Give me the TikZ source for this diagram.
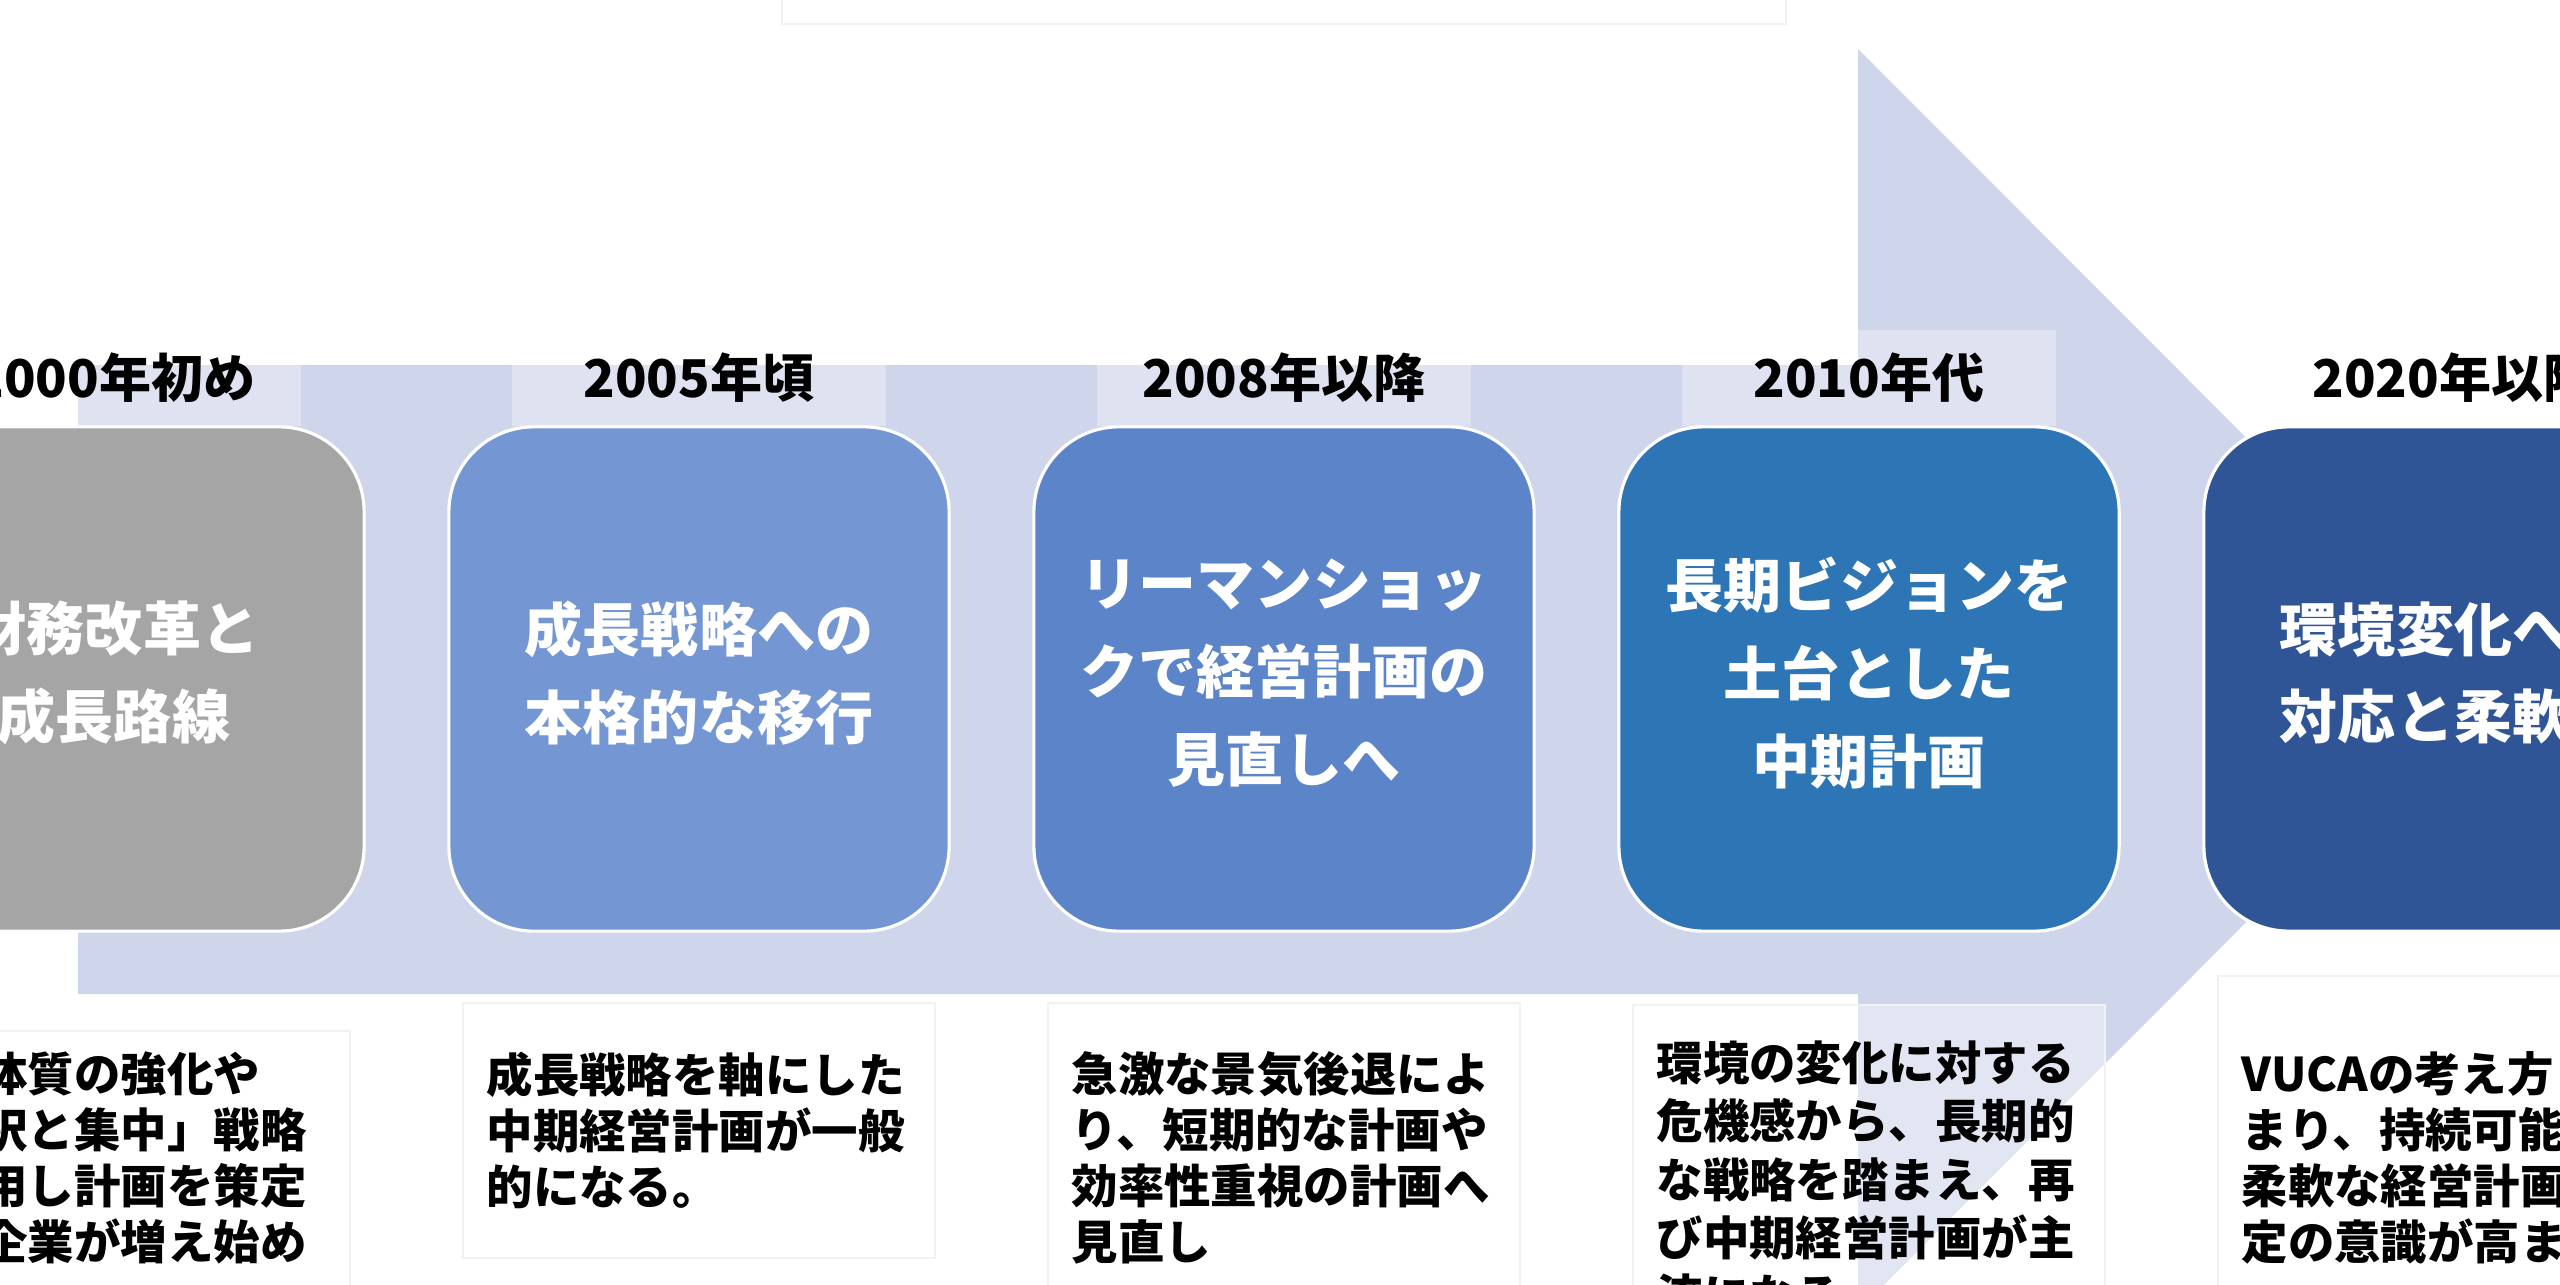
\documentclass[tikz,border=0pt]{standalone}
\usepackage{fontspec}
\setmainfont{Noto Sans CJK JP}
\newcommand\stagefont{\fontsize{16.5pt}{25pt}\selectfont\bfseries}
\newcommand\yearfont{\fontsize{14.8pt}{18pt}\selectfont\bfseries}
\newcommand\notefont{\fontsize{13.2pt}{15.9pt}\selectfont\bfseries}
\definecolor{arrowfill}{HTML}{CFD5EA}
\definecolor{stageA}{HTML}{A5A5A5}
\definecolor{stageB}{HTML}{7496D2}
\definecolor{stageC}{HTML}{5B84C9}
\definecolor{stageD}{HTML}{2E75B6}
\definecolor{stageE}{HTML}{2F5597}
\begin{document}
\begin{tikzpicture}[x=0.01cm, y=-0.01cm,
  yearbox/.style={fill=white, fill opacity=0.35, text opacity=1, minimum width=3.74cm, minimum height=0.96cm, inner sep=0pt, font=\yearfont},
  stagebox/.style={draw=white, line width=0.9pt, rounded corners=0.85cm, minimum width=5cm, minimum height=5.04cm, inner sep=0pt},
  stagetext/.style={align=center, text=white, inner sep=0pt, font=\stagefont},
  notebox/.style={draw=black!5, line width=0.5pt, fill=white, fill opacity=0.4, anchor=north west, minimum width=4.72cm, inner sep=0pt},
  notetext/.style={anchor=north west, align=left, inner sep=0pt, font=\notefont}]
  \useasboundingbox (0,0) rectangle (2560,1285);
  \draw[black!5] (782,-10) rectangle (1786,24);
  \fill[arrowfill] (78,365) -- (1858,365) -- (1858,49) -- (2488,680) -- (1858,1311) -- (1858,994) -- (78,994) -- cycle;

  \node[yearbox] (yr1) at (114,378) {2000年初め};
  \node[yearbox] (yr2) at (699,378) {2005年頃};
  \node[yearbox] (yr3) at (1284,378) {2008年以降};
  \node[yearbox] (yr4) at (1869,378) {2010年代};
  \node[yearbox] (yr5) at (2454,378) {2020年以降};

  \node[stagebox, fill=stageA] (st1) at (114,679) {};
  \node[stagebox, fill=stageB] (st2) at (699,679) {};
  \node[stagebox, fill=stageC] (st3) at (1284,679) {};
  \node[stagebox, fill=stageD] (st4) at (1869,679) {};
  \node[stagebox, fill=stageE] (st5) at (2454,679) {};
  \node[stagetext] (sl1) at ([yshift=0.06cm]st1.center) {財務改革と\\成長路線};
  \node[stagetext] (sl2) at ([yshift=0.06cm]st2.center) {成長戦略への\\本格的な移行};
  \node[stagetext] (sl3) at ([yshift=0.06cm]st3.center) {リーマンショッ\\クで経営計画の\\見直しへ};
  \node[stagetext] (sl4) at ([yshift=0.06cm]st4.center) {長期ビジョンを\\土台とした\\中期計画};
  \node[stagetext] (sl5) at ([yshift=0.06cm]st5.center) {環境変化への\\対応と柔軟性};

  \node[notebox, minimum height=3cm] (nb1) at (-123,1030) {};
  \node[notebox, minimum height=2.55cm] (nb2) at (462,1002) {};
  \node[notebox, minimum height=3.2cm] (nb3) at (1047,1002) {};
  \node[notebox, minimum height=3.2cm] (nb4) at (1632,1004) {};
  \node[notebox, minimum height=3.4cm] (nb5) at (2217,975) {};

  \node[notetext] (nt1) at (-112,1051) {財務体質の強化や\\「選択と集中」戦略\\を採用し計画を策定\\する企業が増え始め};
  \node[notetext] (nt2) at (486,1051) {成長戦略を軸にした\\中期経営計画が一般\\的になる。};
  \node[notetext] (nt3) at (1071,1051) {急激な景気後退によ\\り、短期的な計画や\\効率性重視の計画へ\\見直し};
  \node[notetext, font=\fontsize{13.2pt}{16.6pt}\selectfont\bfseries] (nt4) at (1656,1040) {環境の変化に対する\\危機感から、長期的\\な戦略を踏まえ、再\\び中期経営計画が主\\流になる。};
  \node[notetext] (nt5) at (2241,1051) {VUCAの考え方\\まり、持続可能\\柔軟な経営計画\\定の意識が高ま};
\end{tikzpicture}
\end{document}
